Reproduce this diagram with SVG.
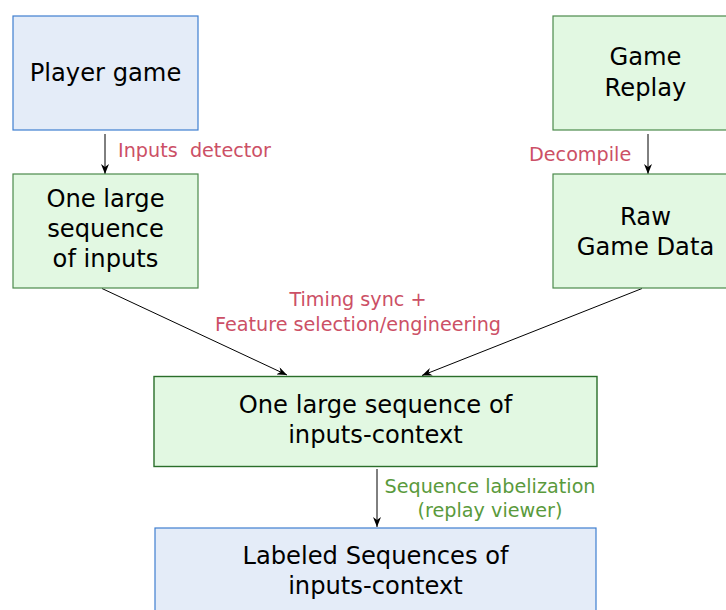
<svg xmlns="http://www.w3.org/2000/svg" width="726" height="610" viewBox="0 0 726 610">
<style>
.blue{fill:#e4ecf8;stroke:#3f7fd0;stroke-width:1.2}
.green{fill:#e2f8e2;stroke:#4c8a4c;stroke-width:1.2}
.green2{fill:#e2f8e2;stroke:#2a6e2a;stroke-width:1.4}
.t{font-family:"DejaVu Sans",Verdana,sans-serif;font-size:24.2px;fill:#000;text-anchor:middle}
.lr{font-family:"DejaVu Sans",Verdana,sans-serif;font-size:19.2px;fill:#cc5066;white-space:pre}
.lg{font-family:"DejaVu Sans",Verdana,sans-serif;font-size:19.2px;fill:#5a9a3c;text-anchor:middle}
.c{fill:none;stroke:#000;stroke-width:1}
</style>
<defs>
<marker id="ah" viewBox="0 0 10 8" refX="10" refY="4" markerWidth="10" markerHeight="8" markerUnits="userSpaceOnUse" orient="auto">
<path d="M0,0 L10,4 L0,8 L3,4 Z" fill="#000"/>
</marker>
</defs>
<g id="connectors">
<path class="c" d="M105,134 L105,174" marker-end="url(#ah)"/>
<path class="c" d="M648,134 L648,174" marker-end="url(#ah)"/>
<path class="c" d="M102,288.5 L287,375" marker-end="url(#ah)"/>
<path class="c" d="M642,288.5 L422,375.5" marker-end="url(#ah)"/>
<path class="c" d="M377,469 L377,527" marker-end="url(#ah)"/>
<text class="lr" x="118" y="157" xml:space="preserve">Inputs  detector</text>
<text class="lr" x="529" y="161">Decompile</text>
<text class="lr" x="358" y="306" text-anchor="middle">Timing sync +</text>
<text class="lr" x="358" y="331" text-anchor="middle">Feature selection/engineering</text>
<text class="lg" x="490" y="493">Sequence labelization</text>
<text class="lg" x="490" y="517">(replay viewer)</text>
</g>
<g id="player-game">
<rect class="blue" x="13" y="16" width="185" height="114"/>
<text class="t" x="105.5" y="81">Player game</text>
</g>
<g id="inputs-seq">
<rect class="green" x="13" y="174" width="185" height="114"/>
<text class="t" x="105.5" y="207">One large</text>
<text class="t" x="105.5" y="237">sequence</text>
<text class="t" x="105.5" y="267">of inputs</text>
</g>
<g id="game-replay">
<rect class="green" x="553" y="16" width="185" height="114"/>
<text class="t" x="645.5" y="65">Game</text>
<text class="t" x="645.5" y="96">Replay</text>
</g>
<g id="raw-data">
<rect class="green" x="553" y="174" width="185" height="114"/>
<text class="t" x="645.5" y="225">Raw</text>
<text class="t" x="645.5" y="255">Game Data</text>
</g>
<g id="context-seq">
<rect class="green2" x="154" y="376.5" width="443" height="90"/>
<text class="t" x="375.5" y="413">One large sequence of</text>
<text class="t" x="375.5" y="443">inputs-context</text>
</g>
<g id="labeled">
<rect class="blue" x="155" y="528" width="441" height="100"/>
<text class="t" x="375.5" y="564">Labeled Sequences of</text>
<text class="t" x="375.5" y="594">inputs-context</text>
</g>
</svg>
